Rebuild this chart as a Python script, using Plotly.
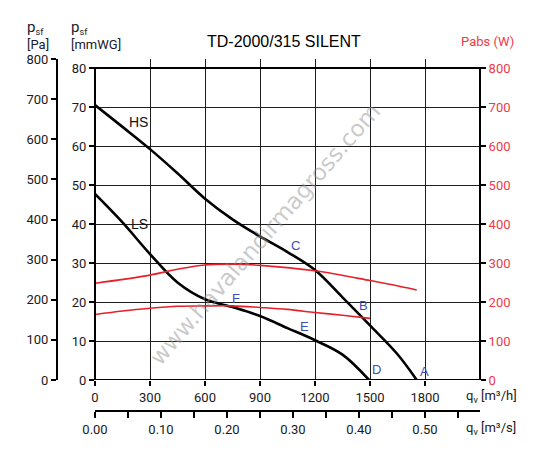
import plotly.graph_objects as go

# ---- data ----
hs_q = [0, 150, 300, 450, 600, 750, 900, 1050, 1200, 1350, 1500, 1650, 1755]
hs_p = [70.5, 64.9, 59.2, 53.0, 46.5, 41.2, 36.8, 32.8, 28.2, 21.2, 14, 6.6, 0]
ls_q = [0, 150, 300, 450, 600, 750, 900, 1050, 1200, 1350, 1495]
ls_p = [47.7, 40.4, 32.3, 25.0, 20.7, 18.7, 16.4, 13.3, 10.2, 6.5, 0]
pw_hi_q = [0, 300, 450, 600, 750, 900, 1200, 1500, 1755]
pw_hi_w = [248, 269, 284, 295, 297, 294, 280, 255, 231]
pw_lo_q = [0, 150, 300, 450, 600, 750, 900, 1050, 1200, 1350, 1500]
pw_lo_w = [168, 177, 184, 189, 190, 190, 186, 181, 173, 166, 158]

q_h_ticks = [0, 300, 600, 900, 1200, 1500, 1800]
q_s_ticks = [0.0, 0.05, 0.10, 0.15, 0.20, 0.25, 0.30, 0.35, 0.40, 0.45, 0.50, 0.55]
q_s_text = ["0.00", "", "0.10", "", "0.20", "", "0.30", "", "0.40", "", "0.50", ""]
mmwg_ticks = [0, 10, 20, 30, 40, 50, 60, 70, 80]
pa_ticks = [0, 100, 200, 300, 400, 500, 600, 700, 800]
w_ticks = [0, 100, 200, 300, 400, 500, 600, 700, 800]

label_text = ["HS", "LS", "C", "F", "E", "B", "D", "A"]
label_q = [235, 245, 1091, 769, 1140, 1462, 1538, 1795]
label_p = [66.2, 40, 34.4, 20.8, 13.8, 19.2, 2.6, 2.3]
label_col = ["#111111", "#111111"] + ["#3b4db8"] * 6

TICKFONT = dict(family="Roboto", size=13, color="#1a1a1a")
RED = "#e8202a"
RED_TXT = "#f03a48"

# geometry
W, H = 541, 457
ml, mr, mt, mb = 57, 61, 59, 46
pw = W - ml - mr
ph = H - mt - mb
x_dom0 = (95 - ml) / pw
y_dom0 = (mt + ph - 380) / ph
ymax = 80 * 321 / 312

fig = go.Figure()
fig.add_trace(go.Scatter(x=hs_q, y=hs_p, mode="lines", line=dict(color="black", width=2.6, shape="spline"), hoverinfo="skip"))
fig.add_trace(go.Scatter(x=ls_q, y=ls_p, mode="lines", line=dict(color="black", width=2.6, shape="spline"), hoverinfo="skip"))
fig.add_trace(go.Scatter(x=pw_hi_q, y=pw_hi_w, yaxis="y2", mode="lines", line=dict(color=RED, width=1.6, shape="spline"), hoverinfo="skip"))
fig.add_trace(go.Scatter(x=pw_lo_q, y=pw_lo_w, yaxis="y2", mode="lines", line=dict(color=RED, width=1.6, shape="spline"), hoverinfo="skip"))
# invisible helpers so that the extra axes are drawn
fig.add_trace(go.Scatter(x=[0], y=[0], yaxis="y3", mode="markers", marker=dict(opacity=0), hoverinfo="skip"))
fig.add_trace(go.Scatter(x=[0], y=[0], xaxis="x2", mode="markers", marker=dict(opacity=0), hoverinfo="skip"))

fig.update_layout(
    width=W, height=H,
    margin=dict(l=ml, r=mr, t=mt, b=mb),
    paper_bgcolor="white", plot_bgcolor="rgba(0,0,0,0)",
    showlegend=False,
    xaxis=dict(domain=[x_dom0, 1], range=[0, 2100], tickvals=q_h_ticks, ticks="outside", ticklen=5,
               tickcolor="black", tickwidth=1.5, showgrid=True, gridcolor="#1e1e1e", gridwidth=1.3,
               zeroline=False, showline=False, tickfont=TICKFONT, anchor="y", fixedrange=True),
    xaxis2=dict(overlaying="x", anchor="free", position=0, side="bottom", range=[0, 2100 / 3600],
                tickvals=q_s_ticks, ticktext=q_s_text, ticks="outside", ticklen=6, tickwidth=1.5,
                tickcolor="black", showline=True, linecolor="black", linewidth=2, showgrid=False,
                zeroline=False, tickfont=TICKFONT),
    yaxis=dict(domain=[y_dom0, 1], range=[0, ymax], tickvals=mmwg_ticks, ticks="outside", ticklen=5,
               tickcolor="black", tickwidth=1.5, showgrid=True, gridcolor="#1e1e1e", gridwidth=1.3,
               zeroline=False, showline=False, tickfont=TICKFONT, anchor="x"),
    yaxis2=dict(overlaying="y", side="right", anchor="x", range=[0, ymax * 10], tickvals=w_ticks,
                ticks="outside", ticklen=5, tickcolor="black", tickwidth=1.5, showgrid=False,
                zeroline=False, showline=False, tickfont=dict(family="Roboto", size=13, color=RED_TXT)),
    yaxis3=dict(overlaying="y", anchor="free", position=0, side="left", range=[0, 800], tickvals=pa_ticks,
                ticks="outside", ticklen=5, tickcolor="black", tickwidth=1.5, showline=True,
                linecolor="black", linewidth=2, showgrid=False, zeroline=False, tickfont=TICKFONT),
)

# plot frame
fig.add_shape(type="rect", xref="x domain", yref="y", x0=0, x1=1, y0=0, y1=80,
              line=dict(color="black", width=2), layer="above")


def px(xp):
    return (xp - ml) / pw


def py(yp):
    return (mt + ph - yp) / ph


# watermark
fig.add_annotation(text="www.havalandirmagross.com", xref="paper", yref="paper",
                   x=px(265), y=py(234), xanchor="center", yanchor="middle",
                   showarrow=False, textangle=-49,
                   font=dict(family="DejaVu Sans", size=23, color="rgba(150,150,150,0.5)"))

# curve labels
for t, xq, yp, c in zip(label_text, label_q, label_p, label_col):
    fig.add_annotation(text=t, x=xq, y=yp, xref="x", yref="y", showarrow=False,
                       xanchor="center", yanchor="middle",
                       font=dict(family="Liberation Sans", size=14 if len(t) == 2 else 13, color=c))

fig.add_annotation(text="TD-2000/315 SILENT", xref="paper", yref="paper", x=px(284), y=py(42),
                   xanchor="center", yanchor="middle",
                   showarrow=False, font=dict(family="Liberation Sans", size=16, color="black"))
fig.add_annotation(text="Pabs (W)", xref="paper", yref="paper", x=px(459), y=py(42),
                   xanchor="left", yanchor="middle",
                   showarrow=False, font=dict(family="Roboto", size=13, color=RED_TXT))
fig.add_annotation(text="<span style='font-size:15px'>p</span><sub>sf</sub><br>[Pa]", xref="paper", yref="paper",
                   x=px(25), y=py(35), xanchor="left", yanchor="middle", align="left", showarrow=False,
                   font=dict(family="Roboto", size=13, color="#1a1a2a"))
fig.add_annotation(text="<span style='font-size:15px'>p</span><sub>sf</sub><br>[mmWG]", xref="paper", yref="paper",
                   x=px(69), y=py(35), xanchor="left", yanchor="middle", align="left", showarrow=False,
                   font=dict(family="Roboto", size=13, color="#1a1a2a"))
fig.add_annotation(text="q<sub>v</sub> [m³/h]", xref="paper", yref="paper", x=px(464), y=py(396),
                   xanchor="left", yanchor="middle", showarrow=False,
                   font=dict(family="Roboto", size=13, color="#1a1a1a"))
fig.add_annotation(text="q<sub>v</sub> [m³/s]", xref="paper", yref="paper", x=px(464), y=py(428),
                   xanchor="left", yanchor="middle", showarrow=False,
                   font=dict(family="Roboto", size=13, color="#1a1a1a"))

fig.write_html("out.html")
